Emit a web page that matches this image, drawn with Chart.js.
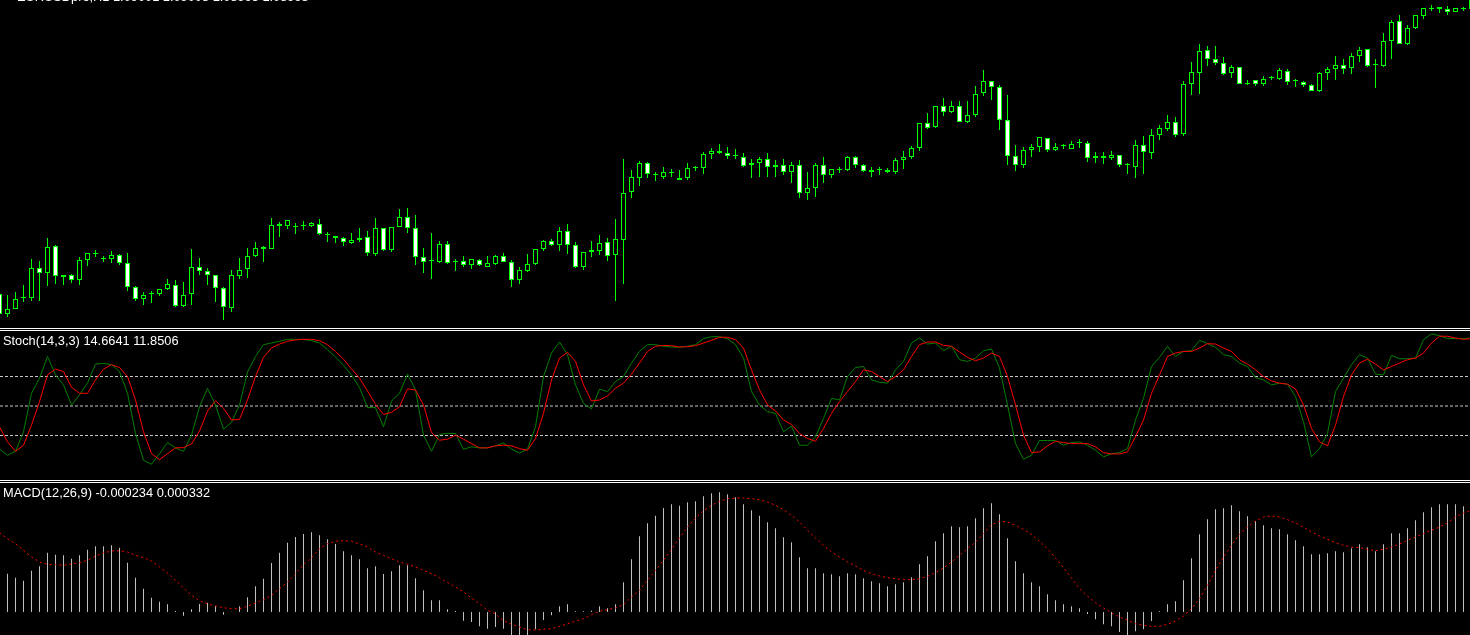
<!DOCTYPE html>
<html>
<head>
<meta charset="utf-8">
<script src="https://cdn.jsdelivr.net/npm/chart.js@4.4.0/dist/chart.umd.min.js"></script>
<style>
  html, body { margin: 0; padding: 0; background: #000; width: 1470px; height: 635px; overflow: hidden; }
  canvas { position: absolute; left: 0; display: block; }
  .sep { position: absolute; left: 0; width: 1470px; height: 1px; background: #fff; }
  .lbl { position: absolute; color: #fff; font: 12.8px "Liberation Sans", Arial, sans-serif; line-height: 1; white-space: nowrap; }
</style>
</head>
<body>
<canvas id="price" width="1470" height="328" style="top:0"></canvas>
<div class="sep" style="top:328px"></div>
<div class="sep" style="top:330px"></div>
<canvas id="stoch" width="1470" height="149" style="top:331px"></canvas>
<div class="sep" style="top:480px"></div>
<div class="sep" style="top:482px"></div>
<canvas id="macd" width="1470" height="152" style="top:483px"></canvas>

<div class="lbl" style="left:17px;top:-9px">EURUSDpro,H1  1.09001 1.09008 1.08995 1.08998</div>
<div class="lbl" style="left:3px;top:335px">Stoch(14,3,3) 14.6641 11.8506</div>
<div class="lbl" style="left:3px;top:487px">MACD(12,26,9) -0.000234 0.000332</div>

<script>
// H1 bars, oldest on the left
const opens = [
  1.08706,1.08686,1.08691,1.08702,1.08702,1.08732,1.08727,1.08754,1.08723,1.08725,
  1.08720,1.08740,1.08746,1.08741,1.08741,1.08745,1.08737,1.08713,1.08701,1.08706,
  1.08706,1.08711,1.08715,1.08694,1.08706,1.08733,1.08729,1.08725,1.08712,1.08692,
  1.08724,1.08731,1.08744,1.08753,1.08751,1.08776,1.08774,1.08773,1.08774,1.08774,
  1.08776,1.08765,1.08764,1.08762,1.08757,1.08762,1.08763,1.08746,1.08772,1.08750,
  1.08773,1.08783,1.08772,1.08743,1.08739,1.08738,1.08756,1.08738,1.08739,1.08735,
  1.08740,1.08733,1.08736,1.08744,1.08738,1.08720,1.08729,1.08736,1.08751,1.08759,
  1.08755,1.08769,1.08755,1.08733,1.08748,1.08749,1.08758,1.08745,1.08760,1.08808,
  1.08822,1.08837,1.08825,1.08823,1.08827,1.08822,1.08822,1.08832,1.08832,1.08846,
  1.08849,1.08847,1.08844,1.08843,1.08837,1.08837,1.08841,1.08833,1.08835,1.08828,
  1.08835,1.08807,1.08812,1.08835,1.08825,1.08830,1.08830,1.08843,1.08835,1.08828,
  1.08830,1.08830,1.08828,1.08840,1.08843,1.08852,1.08877,1.08873,1.08894,1.08888,
  1.08894,1.08878,1.08885,1.08907,1.08919,1.08913,1.08880,1.08844,1.08835,1.08850,
  1.08853,1.08862,1.08850,1.08854,1.08851,1.08857,1.08857,1.08842,1.08844,1.08842,
  1.08845,1.08835,1.08833,1.08855,1.08847,1.08865,1.08871,1.08878,1.08866,1.08916,
  1.08927,1.08950,1.08941,1.08937,1.08927,1.08933,1.08916,1.08920,1.08916,1.08922,
  1.08921,1.08929,1.08919,1.08918,1.08915,1.08909,1.08927,1.08931,1.08935,1.08932,
  1.08944,1.08951,1.08935,1.08934,1.08959,1.08979,1.08956,1.08972,1.08984,1.08991,
  1.08991,1.08991,1.08988,1.08991,1.08991
]
const highs = [
  1.08708,1.08705,1.08708,1.08715,1.08741,1.08739,1.08762,1.08755,1.08725,1.08726,
  1.08743,1.08747,1.08750,1.08744,1.08749,1.08746,1.08747,1.08714,1.08708,1.08709,
  1.08711,1.08721,1.08720,1.08718,1.08751,1.08742,1.08732,1.08725,1.08713,1.08730,
  1.08742,1.08752,1.08758,1.08754,1.08782,1.08778,1.08780,1.08777,1.08779,1.08778,
  1.08781,1.08768,1.08764,1.08763,1.08767,1.08772,1.08769,1.08782,1.08772,1.08773,
  1.08791,1.08792,1.08785,1.08752,1.08767,1.08759,1.08759,1.08741,1.08744,1.08741,
  1.08741,1.08744,1.08745,1.08747,1.08740,1.08733,1.08746,1.08751,1.08760,1.08761,
  1.08773,1.08776,1.08758,1.08748,1.08759,1.08765,1.08762,1.08781,1.08841,1.08830,
  1.08839,1.08838,1.08828,1.08833,1.08831,1.08830,1.08837,1.08834,1.08848,1.08852,
  1.08856,1.08853,1.08851,1.08847,1.08841,1.08843,1.08847,1.08840,1.08841,1.08838,
  1.08840,1.08828,1.08837,1.08843,1.08831,1.08833,1.08844,1.08844,1.08836,1.08833,
  1.08833,1.08832,1.08842,1.08849,1.08854,1.08877,1.08887,1.08894,1.08902,1.08899,
  1.08899,1.08899,1.08914,1.08930,1.08919,1.08915,1.08905,1.08855,1.08853,1.08856,
  1.08863,1.08862,1.08857,1.08856,1.08859,1.08861,1.08859,1.08848,1.08848,1.08849,
  1.08845,1.08837,1.08860,1.08864,1.08871,1.08875,1.08885,1.08883,1.08919,1.08938,
  1.08956,1.08954,1.08954,1.08943,1.08935,1.08933,1.08920,1.08920,1.08924,1.08924,
  1.08932,1.08931,1.08921,1.08919,1.08916,1.08928,1.08933,1.08944,1.08941,1.08947,
  1.08953,1.08951,1.08941,1.08967,1.08980,1.08985,1.08975,1.08985,1.08992,1.08995,
  1.08993,1.08994,1.08992,1.08993,1.09002
]
const lows = [
  1.08684,1.08683,1.08691,1.08698,1.08699,1.08699,1.08714,1.08716,1.08715,1.08717,
  1.08715,1.08734,1.08743,1.08738,1.08737,1.08735,1.08709,1.08699,1.08695,1.08697,
  1.08704,1.08710,1.08693,1.08693,1.08695,1.08725,1.08715,1.08698,1.08680,1.08688,
  1.08721,1.08722,1.08743,1.08738,1.08751,1.08763,1.08771,1.08766,1.08770,1.08773,
  1.08765,1.08758,1.08757,1.08754,1.08756,1.08758,1.08744,1.08744,1.08749,1.08748,
  1.08773,1.08767,1.08735,1.08727,1.08721,1.08737,1.08736,1.08729,1.08733,1.08731,
  1.08734,1.08733,1.08735,1.08738,1.08713,1.08716,1.08728,1.08735,1.08749,1.08754,
  1.08749,1.08746,1.08732,1.08730,1.08743,1.08745,1.08739,1.08699,1.08716,1.08802,
  1.08814,1.08822,1.08819,1.08821,1.08823,1.08820,1.08820,1.08829,1.08826,1.08841,
  1.08846,1.08841,1.08841,1.08833,1.08822,1.08823,1.08823,1.08823,1.08825,1.08817,
  1.08802,1.08800,1.08803,1.08817,1.08822,1.08827,1.08829,1.08832,1.08828,1.08823,
  1.08825,1.08827,1.08826,1.08831,1.08841,1.08849,1.08871,1.08872,1.08884,1.08887,
  1.08878,1.08877,1.08883,1.08904,1.08900,1.08870,1.08835,1.08829,1.08832,1.08843,
  1.08848,1.08848,1.08849,1.08851,1.08851,1.08852,1.08838,1.08837,1.08836,1.08840,
  1.08833,1.08826,1.08822,1.08826,1.08841,1.08860,1.08869,1.08863,1.08864,1.08905,
  1.08906,1.08934,1.08935,1.08925,1.08922,1.08916,1.08915,1.08914,1.08914,1.08920,
  1.08920,1.08915,1.08913,1.08913,1.08909,1.08908,1.08920,1.08920,1.08926,1.08926,
  1.08938,1.08933,1.08912,1.08933,1.08941,1.08956,1.08955,1.08971,1.08981,1.08989,
  1.08987,1.08985,1.08988,1.08989,1.08990
]
const closes = [
  1.08686,1.08691,1.08701,1.08702,1.08732,1.08727,1.08753,1.08724,1.08725,1.08720,
  1.08740,1.08747,1.08747,1.08741,1.08745,1.08737,1.08713,1.08701,1.08705,1.08706,
  1.08711,1.08716,1.08694,1.08705,1.08733,1.08729,1.08725,1.08712,1.08693,1.08725,
  1.08730,1.08744,1.08752,1.08751,1.08775,1.08774,1.08780,1.08773,1.08774,1.08777,
  1.08766,1.08765,1.08762,1.08758,1.08760,1.08760,1.08747,1.08772,1.08750,1.08773,
  1.08783,1.08772,1.08743,1.08738,1.08739,1.08756,1.08737,1.08738,1.08735,1.08741,
  1.08735,1.08737,1.08744,1.08738,1.08720,1.08730,1.08736,1.08751,1.08759,1.08755,
  1.08769,1.08755,1.08733,1.08748,1.08750,1.08757,1.08744,1.08761,1.08807,1.08823,
  1.08837,1.08826,1.08825,1.08828,1.08827,1.08820,1.08832,1.08832,1.08846,1.08849,
  1.08847,1.08844,1.08844,1.08834,1.08835,1.08841,1.08833,1.08835,1.08828,1.08835,
  1.08807,1.08812,1.08835,1.08825,1.08831,1.08830,1.08843,1.08835,1.08829,1.08830,
  1.08830,1.08828,1.08840,1.08843,1.08852,1.08877,1.08872,1.08894,1.08888,1.08894,
  1.08878,1.08885,1.08906,1.08919,1.08913,1.08880,1.08844,1.08835,1.08850,1.08853,
  1.08863,1.08850,1.08853,1.08854,1.08856,1.08857,1.08842,1.08844,1.08842,1.08845,
  1.08835,1.08835,1.08855,1.08848,1.08865,1.08872,1.08878,1.08865,1.08916,1.08928,
  1.08949,1.08941,1.08937,1.08926,1.08933,1.08916,1.08916,1.08916,1.08921,1.08922,
  1.08930,1.08918,1.08919,1.08915,1.08909,1.08927,1.08931,1.08935,1.08931,1.08944,
  1.08950,1.08934,1.08935,1.08959,1.08978,1.08956,1.08972,1.08985,1.08992,1.08991,
  1.08993,1.08988,1.08992,1.08991,1.09000
]

// Stochastic(14,3,3): main (green) and signal (red)
const stochMain = [
  20.7,16.6,19.3,32.5,58.6,68.9,83.6,71.1,64.3,50.7,
  57.5,65.5,78.4,78.9,78.0,73.4,58.6,31.4,13.2,10.5,
  17.7,25.2,21.6,19.3,30.2,49.5,62.0,50.7,34.3,38.9,
  50.7,73.0,83.6,91.6,92.7,93.9,95.2,95.2,95.2,94.3,
  92.7,88.2,83.2,77.5,71.1,62.5,48.9,48.9,35.9,53.4,
  58.6,71.6,60.9,30.2,19.3,30.7,31.4,31.4,20.7,22.3,
  21.6,21.6,23.0,25.0,20.7,18.2,20.7,35.9,70.0,85.9,
  93.4,84.8,64.3,51.8,48.0,61.4,59.8,66.6,70.0,79.1,
  87.0,91.6,91.6,90.5,90.0,89.8,90.5,91.6,95.7,97.0,
  97.0,95.7,91.6,82.5,59.8,50.7,46.1,45.0,32.5,36.4,
  23.4,23.4,29.1,41.6,55.2,54.1,70.0,76.1,76.8,67.7,
  66.1,65.5,74.5,80.2,92.7,96.1,92.0,92.7,87.5,90.5,
  81.4,80.2,82.5,87.5,88.6,75.7,50.7,24.5,13.9,16.6,
  26.6,26.6,26.6,23.4,25.2,25.7,23.4,20.0,15.5,17.7,
  18.4,21.1,40.5,55.2,76.8,83.0,90.5,83.6,87.0,87.5,
  94.5,92.3,89.8,84.8,83.6,79.1,76.8,69.3,67.7,64.3,
  65.5,64.8,56.4,39.3,15.5,21.1,31.4,59.8,68.9,78.0,
  84.8,82.5,71.6,71.1,84.3,82.0,82.0,82.5,95.0,98.9,
  97.7,95.7,95.7,95.7,96.1
]
const stochSignal = [
  35.9,25.7,19.3,23.4,37.0,53.0,71.1,75.0,73.4,62.7,
  58.6,58.6,67.7,75.0,78.0,76.1,70.0,54.1,32.5,17.7,
  13.6,17.7,21.6,21.8,24.3,33.0,46.6,53.6,48.4,40.5,
  40.9,54.1,70.0,83.0,89.3,92.0,93.9,94.8,95.2,95.2,
  94.3,91.6,87.0,81.8,75.2,68.9,60.2,51.1,44.3,45.7,
  49.5,61.6,60.9,50.7,32.0,26.8,27.5,30.2,27.5,24.5,
  21.6,21.6,23.0,23.4,23.0,21.1,20.0,28.0,45.0,67.7,
  82.5,86.4,80.2,64.3,53.4,54.1,56.8,62.0,65.5,71.6,
  79.1,87.0,90.5,91.1,90.9,90.0,90.2,90.9,92.7,94.5,
  96.6,96.6,95.0,89.3,74.5,60.9,50.7,46.6,40.5,37.5,
  31.4,28.0,26.1,34.8,45.0,53.0,59.8,66.6,74.5,73.4,
  70.0,66.6,70.0,74.5,83.6,91.6,93.4,93.4,91.1,90.5,
  86.6,83.0,80.7,82.5,85.9,83.6,70.0,50.7,30.2,18.4,
  18.9,23.0,26.1,25.2,24.5,24.5,24.5,22.3,18.4,17.5,
  17.5,18.9,29.1,40.5,58.6,71.1,83.6,85.9,87.0,87.0,
  89.3,92.3,92.0,89.3,87.0,81.4,78.4,74.5,70.0,67.0,
  65.5,64.8,61.6,50.7,34.8,25.7,23.0,37.0,56.4,71.1,
  79.1,81.8,78.4,74.5,76.8,79.1,81.4,82.5,85.9,92.7,
  97.3,97.3,96.1,95.2,95.7
]
const stochLevels = [30, 50, 70]

// MACD(12,26,9): histogram and signal
const macdHist = [
  0.000400,0.000383,0.000343,0.000313,0.000413,0.000457,0.000593,0.000573,0.000567,0.000533,
  0.000567,0.000623,0.000657,0.000657,0.000667,0.000643,0.000493,0.000343,0.000233,0.000143,
  0.000103,0.000077,0.000010,-0.000037,0.000027,0.000080,0.000093,0.000060,-0.000027,0.000003,
  0.000057,0.000147,0.000257,0.000333,0.000490,0.000593,0.000693,0.000750,0.000780,0.000797,
  0.000767,0.000727,0.000680,0.000607,0.000567,0.000527,0.000437,0.000457,0.000380,0.000407,
  0.000467,0.000467,0.000337,0.000217,0.000117,0.000117,0.000027,0.000010,-0.000087,-0.000100,
  -0.000143,-0.000167,-0.000150,-0.000167,-0.000267,-0.000283,-0.000267,-0.000173,-0.000080,-0.000033,
  0.000057,0.000077,0.000007,0.000007,0.000013,0.000057,0.000037,0.000077,0.000297,0.000527,
  0.000757,0.000887,0.000963,0.001040,0.001077,0.001063,0.001097,0.001107,0.001157,0.001187,
  0.001197,0.001177,0.001147,0.001077,0.001017,0.000963,0.000897,0.000837,0.000747,0.000697,
  0.000547,0.000437,0.000437,0.000387,0.000377,0.000357,0.000387,0.000377,0.000337,0.000307,
  0.000287,0.000257,0.000277,0.000297,0.000347,0.000477,0.000557,0.000707,0.000787,0.000857,
  0.000847,0.000857,0.000937,0.001037,0.001087,0.000977,0.000737,0.000507,0.000387,0.000297,
  0.000257,0.000177,0.000117,0.000077,0.000057,0.000037,-0.000020,-0.000073,-0.000123,-0.000143,
  -0.000200,-0.000250,-0.000193,-0.000173,-0.000090,0.000007,0.000077,0.000107,0.000317,0.000537,
  0.000777,0.000927,0.001027,0.001037,0.001067,0.001007,0.000957,0.000907,0.000867,0.000837,
  0.000827,0.000777,0.000717,0.000657,0.000577,0.000577,0.000587,0.000607,0.000597,0.000637,
  0.000677,0.000647,0.000607,0.000677,0.000787,0.000787,0.000837,0.000917,0.000997,0.001047,
  0.001077,0.001077,0.001077,0.001057,0.001050
]
const macdSignal = [
  0.000793,0.000733,0.000683,0.000617,0.000550,0.000500,0.000477,0.000473,0.000467,0.000480,
  0.000493,0.000517,0.000560,0.000590,0.000610,0.000613,0.000600,0.000567,0.000543,0.000510,
  0.000450,0.000390,0.000317,0.000240,0.000167,0.000113,0.000083,0.000060,0.000043,0.000033,
  0.000033,0.000057,0.000090,0.000123,0.000167,0.000233,0.000300,0.000383,0.000473,0.000543,
  0.000633,0.000683,0.000707,0.000713,0.000707,0.000680,0.000650,0.000600,0.000567,0.000533,
  0.000500,0.000477,0.000450,0.000417,0.000383,0.000343,0.000293,0.000250,0.000200,0.000140,
  0.000083,0.000017,-0.000020,-0.000087,-0.000123,-0.000150,-0.000177,-0.000180,-0.000173,-0.000167,
  -0.000143,-0.000117,-0.000093,-0.000067,-0.000027,0.000007,0.000023,0.000040,0.000073,0.000150,
  0.000217,0.000317,0.000417,0.000517,0.000627,0.000743,0.000850,0.000940,0.001013,0.001067,
  0.001107,0.001133,0.001140,0.001140,0.001133,0.001123,0.001100,0.001067,0.001023,0.000967,
  0.000900,0.000817,0.000740,0.000667,0.000600,0.000550,0.000500,0.000460,0.000417,0.000383,
  0.000360,0.000343,0.000333,0.000323,0.000323,0.000333,0.000357,0.000393,0.000440,0.000500,
  0.000567,0.000633,0.000700,0.000783,0.000873,0.000907,0.000900,0.000867,0.000827,0.000773,
  0.000707,0.000633,0.000540,0.000443,0.000340,0.000233,0.000160,0.000093,0.000040,-0.000007,
  -0.000050,-0.000083,-0.000117,-0.000133,-0.000143,-0.000143,-0.000123,-0.000090,-0.000040,0.000033,
  0.000133,0.000267,0.000417,0.000550,0.000667,0.000777,0.000850,0.000910,0.000950,0.000960,
  0.000950,0.000923,0.000890,0.000850,0.000800,0.000760,0.000727,0.000693,0.000667,0.000650,
  0.000643,0.000627,0.000613,0.000627,0.000650,0.000680,0.000717,0.000750,0.000783,0.000817,
  0.000850,0.000893,0.000950,0.000990,0.001017
]

const CANDLE = '#00ff00'
// 8 px per bar across the 1470 px window
const X_MIN = 0.0625
const X_MAX = X_MIN + 1470 / 8

const isDoji = i => opens[i] === closes[i]

const xAxis = { type: 'linear', display: false, min: X_MIN, max: X_MAX, offset: false }
const baseOptions = {
  responsive: false,
  animation: false,
  devicePixelRatio: 1,
  events: [],
  layout: { padding: 0 },
  plugins: { legend: { display: false }, tooltip: { enabled: false } }
}

new Chart(document.getElementById('price'), {
  type: 'bar',
  data: {
    datasets: [
      {
        label: 'body',
        data: opens.map((o, i) => ({ x: i, y: [o, closes[i]] })),
        order: 0,
        grouped: false,
        barThickness: 5,
        minBarLength: 1,
        inflateAmount: 0,
        borderSkipped: false,
        borderColor: CANDLE,
        borderWidth: ctx => isDoji(ctx.dataIndex) ? 0 : 1,
        backgroundColor: ctx => {
          const i = ctx.dataIndex
          if (isDoji(i)) return CANDLE
          return closes[i] > opens[i] ? '#000000' : '#ffffff'
        }
      },
      {
        label: 'wick',
        data: highs.map((h, i) => ({ x: i, y: [lows[i], h] })),
        order: 1,
        grouped: false,
        barThickness: 1,
        inflateAmount: 0,
        borderWidth: 0,
        backgroundColor: CANDLE
      }
    ]
  },
  options: {
    ...baseOptions,
    scales: {
      x: xAxis,
      y: { display: false, min: 1.08672, max: 1.09000 }
    }
  }
})

new Chart(document.getElementById('stoch'), {
  type: 'line',
  data: {
    datasets: [
      {
        label: 'signal',
        data: stochSignal.map((v, i) => ({ x: i, y: v })),
        order: 0,
        borderColor: '#ff0000',
        borderWidth: 1,
        pointRadius: 0,
        tension: 0
      },
      {
        label: 'main',
        data: stochMain.map((v, i) => ({ x: i, y: v })),
        order: 1,
        borderColor: '#008000',
        borderWidth: 1,
        pointRadius: 0,
        tension: 0
      },
      ...stochLevels.map(lvl => ({
        label: 'level ' + lvl,
        data: [{ x: X_MIN, y: lvl }, { x: X_MAX, y: lvl }],
        order: 2,
        borderColor: '#c8c8c8',
        borderWidth: 1,
        borderDash: [3, 2],
        pointRadius: 0
      }))
    ]
  },
  options: {
    ...baseOptions,
    scales: {
      x: xAxis,
      y: { display: false, min: -0.17, max: 100.85 }
    }
  }
})

new Chart(document.getElementById('macd'), {
  type: 'bar',
  data: {
    datasets: [
      {
        type: 'line',
        label: 'signal',
        data: macdSignal.map((v, i) => ({ x: i, y: v })),
        order: 0,
        borderColor: '#ff0000',
        borderWidth: 1,
        borderDash: [2, 3],
        pointRadius: 0,
        tension: 0
      },
      {
        label: 'macd',
        data: macdHist.map((v, i) => ({ x: i, y: v })),
        order: 1,
        grouped: false,
        barThickness: 1,
        inflateAmount: 0,
        borderWidth: 0,
        backgroundColor: '#c0c0c0'
      }
    ]
  },
  options: {
    ...baseOptions,
    scales: {
      x: xAxis,
      y: { display: false, min: -0.00023, max: 0.00129 }
    }
  }
})
</script>
</body>
</html>
